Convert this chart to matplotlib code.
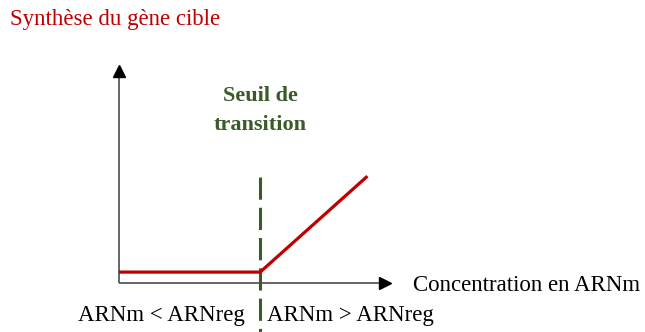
import matplotlib
matplotlib.use("Agg")
import matplotlib.pyplot as plt

# schematic response curve (arbitrary units)
conc = [0.0, 1.0, 1.76]
synth = [0.05, 0.05, 0.49]
threshold = 1.0

ylabel = "Synthèse du gène cible"
xlabel = "Concentration en ARNm"
seuil_label = "Seuil de\ntransition"
left_label = "ARNm < ARNreg"
right_label = "ARNm > ARNreg"

RED = "#c00000"
GREEN = "#3a5a27"
W, H = 645, 332

plt.rcParams["font.family"] = ["Liberation Serif", "DejaVu Serif"]
plt.rcParams["lines.scale_dashes"] = False

fig = plt.figure(figsize=(W / 100, H / 100), dpi=100)
ax = fig.add_axes([119 / W, (H - 283) / H, (390 - 119) / W, (283 - 65) / H])
ax.set_xlim(0, 1.92)
ax.set_ylim(0, 1)
ax.axis("off")

# axes with arrow heads
ax.plot([0, 1.85], [0, 0], color="#595959", lw=1.3, clip_on=False, solid_capstyle="butt")
ax.plot([0, 0], [0, 0.95], color="#595959", lw=1.3, clip_on=False, solid_capstyle="butt")
ax.plot([1.883], [0], marker=">", color="black", markersize=8, clip_on=False)
ax.plot([0], [0.972], marker="^", color="black", markersize=8, clip_on=False)

# threshold dashed line (runs below the axis to the bottom edge)
ax.plot([threshold, threshold], [0.486, -0.23], color=GREEN, lw=2.2,
        dashes=(16, 5.8), clip_on=False, zorder=3)

# response
ax.plot(conc, synth, color=RED, lw=2.3, clip_on=False, zorder=4,
        solid_capstyle="butt")

def ftext(x, y, s, size=16.5, **kw):
    fig.text(x / W, 1 - y / H, s, fontsize=size, **kw)

ftext(10, 25, ylabel, color=RED, va="baseline")
ftext(413, 291, xlabel, color="black", va="baseline")
ftext(260, 101, "Seuil de", size=16, color=GREEN, fontweight="bold", ha="center",
      va="baseline")
ftext(260, 130, "transition", size=16, color=GREEN, fontweight="bold", ha="center",
      va="baseline")
ftext(78, 321, left_label, color="black", va="baseline")
ftext(267, 321, right_label, color="black", va="baseline")

fig.savefig("out.png", dpi=100)
